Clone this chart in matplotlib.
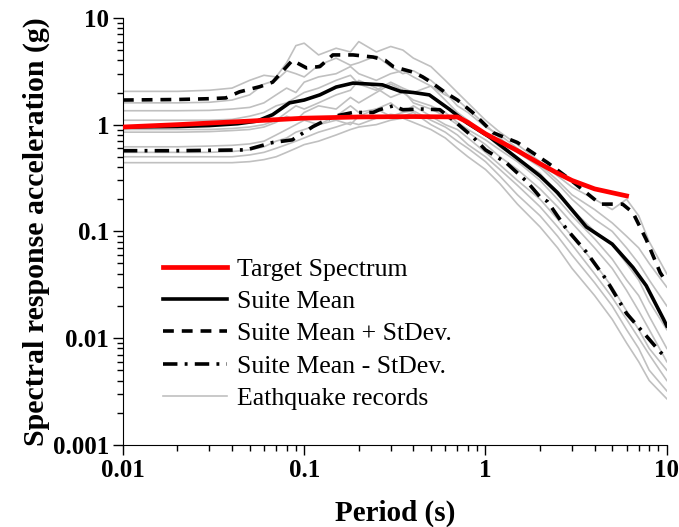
import numpy as np
import matplotlib
matplotlib.use("Agg")
import matplotlib.pyplot as plt

plt.rcParams['font.family'] = ['Liberation Serif', 'DejaVu Serif']

# target spectrum
t_target = [0.01, 0.02, 0.05, 0.1, 0.2, 0.4, 0.7, 0.8, 1.0, 1.5, 2.0, 2.5, 3.0, 4.0, 5.0, 6.0]
sa_target = [0.95, 1.0, 1.08, 1.15, 1.18, 1.19, 1.18, 1.05, 0.82, 0.57, 0.43, 0.35, 0.3, 0.25, 0.23, 0.215]

# suite mean
t_mean = [0.01, 0.02, 0.03, 0.043, 0.055, 0.067, 0.083, 0.1, 0.122, 0.15, 0.186, 0.27, 0.34, 0.4,
          0.49, 0.63, 0.79, 1.06, 1.61, 2.0, 2.5, 3.6, 5.0, 6.5, 7.7, 9.6, 10.0]
sa_mean = [0.95, 0.96, 0.98, 1.02, 1.08, 1.24, 1.6, 1.7, 1.9, 2.25, 2.45, 2.36, 2.05, 2.0,
           1.9, 1.4, 1.04, 0.76, 0.44, 0.33, 0.23, 0.11, 0.076, 0.046, 0.031, 0.015, 0.013]

# mean + stdev
t_plus = [0.01, 0.02, 0.03, 0.037, 0.044, 0.057, 0.067, 0.086, 0.103, 0.122, 0.144, 0.186, 0.24,
          0.28, 0.31, 0.35, 0.4, 0.45, 0.5, 0.6, 0.7, 0.85, 1.1, 1.5, 2.2, 2.9, 4.3, 5.7, 6.5, 7.7,
          9.2, 10.0]
sa_plus = [1.7, 1.72, 1.75, 1.78, 2.03, 2.27, 2.5, 4.0, 3.4, 3.5, 4.5, 4.5, 4.3,
           4.0, 3.5, 3.3, 3.1, 2.8, 2.5, 2.0, 1.7, 1.3, 0.84, 0.68, 0.44, 0.31, 0.18, 0.18, 0.15, 0.084,
           0.041, 0.033]

# mean - stdev
t_minus = [0.01, 0.02, 0.048, 0.067, 0.086, 0.112, 0.144, 0.186, 0.24, 0.26, 0.31, 0.35, 0.45, 0.56,
           0.66, 0.85, 1.0, 1.3, 1.7, 2.0, 2.2, 2.8, 3.6, 4.6, 6.0, 7.7, 9.2, 10.0]
sa_minus = [0.57, 0.57, 0.58, 0.68, 0.72, 0.96, 1.19, 1.3, 1.3, 1.38, 1.5, 1.38, 1.4, 1.38,
            1.11, 0.77, 0.58, 0.44, 0.29, 0.21, 0.19, 0.105, 0.064, 0.036, 0.017, 0.0105, 0.0074, 0.0065]

# earthquake records
t_rec = [0.01, 0.02, 0.03, 0.04, 0.05, 0.06, 0.07, 0.08, 0.09, 0.1, 0.12, 0.15, 0.18, 0.2, 0.25, 0.3,
         0.35, 0.4, 0.5, 0.6, 0.7, 0.8, 1.0, 1.2, 1.5, 2.0, 2.5, 3.0, 4.0, 5.0, 6.0, 7.0, 8.0, 10.0]
rec1 = [2.05, 2.05, 2.1, 2.2, 2.6, 2.9, 2.8, 3.8, 5.5, 5.8, 4.5, 5.2, 4.8, 6.0, 4.8, 5.4,
        5.0, 4.2, 3.5, 2.6, 2.0, 1.6, 1.1, 0.85, 0.65, 0.45, 0.33, 0.26, 0.2, 0.16, 0.2, 0.14, 0.08, 0.04]
rec2 = [1.6, 1.6, 1.62, 1.7, 1.9, 2.4, 2.6, 3.2, 3.0, 2.8, 3.6, 4.2, 3.6, 3.8, 4.4, 3.5,
        3.0, 3.2, 2.6, 2.0, 1.5, 1.3, 0.95, 0.8, 0.6, 0.42, 0.3, 0.22, 0.16, 0.12, 0.09, 0.07, 0.05, 0.03]
rec3 = [1.35, 1.35, 1.36, 1.4, 1.45, 1.6, 1.9, 2.2, 2.0, 2.5, 2.8, 3.0, 3.5, 3.0, 2.6, 3.0,
        3.2, 2.8, 2.3, 1.9, 1.7, 1.4, 1.0, 0.75, 0.55, 0.4, 0.28, 0.2, 0.13, 0.1, 0.07, 0.05, 0.035, 0.02]
rec4 = [1.1, 1.1, 1.1, 1.12, 1.2, 1.3, 1.5, 1.6, 1.8, 2.0, 2.2, 2.6, 2.9, 2.4, 2.1, 2.5,
        2.2, 2.0, 2.3, 1.7, 1.3, 1.1, 0.8, 0.62, 0.48, 0.35, 0.22, 0.16, 0.1, 0.075, 0.05, 0.035, 0.022, 0.012]
rec5 = [0.9, 0.9, 0.9, 0.92, 0.95, 1.0, 1.1, 1.3, 1.5, 1.4, 1.6, 1.9, 2.1, 2.6, 2.2, 1.8,
        2.0, 1.7, 1.5, 1.3, 1.05, 0.9, 0.72, 0.58, 0.45, 0.3, 0.2, 0.14, 0.085, 0.055, 0.035, 0.025, 0.016, 0.008]
rec6 = [0.85, 0.85, 0.86, 0.88, 0.9, 0.95, 1.05, 1.2, 1.1, 1.3, 1.5, 1.4, 1.8, 1.6, 2.0, 2.4,
        2.1, 1.6, 1.4, 1.2, 1.0, 0.85, 0.65, 0.5, 0.38, 0.25, 0.17, 0.12, 0.07, 0.045, 0.028, 0.018, 0.012, 0.006]
rec7 = [0.62, 0.62, 0.63, 0.64, 0.66, 0.7, 0.8, 0.9, 1.0, 1.1, 1.0, 1.2, 1.5, 1.3, 1.4, 1.6,
        1.3, 1.5, 1.2, 1.0, 0.9, 0.75, 0.55, 0.42, 0.3, 0.2, 0.13, 0.09, 0.05, 0.03, 0.018, 0.012, 0.008, 0.005]
rec8 = [0.55, 0.55, 0.55, 0.56, 0.58, 0.62, 0.7, 0.75, 0.85, 0.9, 1.0, 1.1, 1.0, 1.2, 1.4, 1.2,
        1.3, 1.35, 1.1, 0.95, 0.8, 0.65, 0.5, 0.38, 0.27, 0.17, 0.11, 0.075, 0.04, 0.024, 0.015, 0.01, 0.007, 0.004]
rec9 = [0.5, 0.5, 0.5, 0.5, 0.52, 0.55, 0.6, 0.65, 0.7, 0.75, 0.85, 0.95, 1.05, 1.0, 1.15, 1.25,
        1.2, 1.3, 1.0, 0.85, 0.7, 0.6, 0.45, 0.33, 0.22, 0.14, 0.09, 0.06, 0.033, 0.02, 0.012, 0.008, 0.005, 0.0032]
rec10 = [0.44, 0.44, 0.44, 0.44, 0.45, 0.47, 0.5, 0.55, 0.6, 0.65, 0.7, 0.8, 0.9, 0.95, 1.0, 1.1,
         1.15, 1.05, 0.9, 0.75, 0.6, 0.5, 0.38, 0.28, 0.18, 0.11, 0.07, 0.045, 0.025, 0.015, 0.009, 0.006, 0.004, 0.0027]
records = [rec1, rec2, rec3, rec4, rec5, rec6, rec7, rec8, rec9, rec10]

fig = plt.figure(figsize=(6.79, 5.27), dpi=100)
ax = fig.add_axes([0.181, 0.156, 0.801, 0.810])

for i, r in enumerate(records):
    ax.plot(t_rec, r, color='#c0c0c0', lw=1.2, label='Eathquake records' if i == 0 else None, zorder=1)

ax.plot(t_target, sa_target, color='red', lw=3.4, label='Target Spectrum', zorder=5)
ax.plot(t_mean, sa_mean, color='black', lw=2.6, label='Suite Mean', zorder=4)
ax.plot(t_plus, sa_plus, color='black', lw=2.6, dashes=(3, 2.2), label='Suite Mean + StDev.', zorder=4)
ax.plot(t_minus, sa_minus, color='black', lw=2.6, dashes=(4, 2, 0.8, 2), label='Suite Mean - StDev.', zorder=4)

ax.set_xscale('log')
ax.set_yscale('log')
ax.set_xlim(0.01, 10)
ax.set_ylim(0.001, 10)
ax.spines['top'].set_visible(False)
ax.spines['right'].set_visible(False)
ax.set_xticks([0.01, 0.1, 1, 10])
ax.set_xticklabels(['0.01', '0.1', '1', '10'])
ax.set_yticks([0.001, 0.01, 0.1, 1, 10])
ax.set_yticklabels(['0.001', '0.01', '0.1', '1', '10'])
ax.tick_params(which='major', direction='out', length=7, width=1, labelsize=18, pad=3)
ax.tick_params(which='minor', direction='out', length=4, width=1)
for lab in ax.get_xticklabels() + ax.get_yticklabels():
    lab.set_fontweight('bold')

ax.set_xlabel('Period (s)', fontsize=21, fontweight='bold', labelpad=13)
ax.set_ylabel('Spectral response acceleration (g)', fontsize=21.5, fontweight='bold', labelpad=2)

h, l = ax.get_legend_handles_labels()
order = [1, 2, 3, 4, 0]
ax.legend([h[i] for i in order], [l[i] for i in order], loc='upper left',
          bbox_to_anchor=(0.054, 0.462), frameon=False, fontsize=18.5,
          handlelength=2.5, labelspacing=0.36, handletextpad=0.4, borderaxespad=0)

fig.savefig('out.png', dpi=100)
